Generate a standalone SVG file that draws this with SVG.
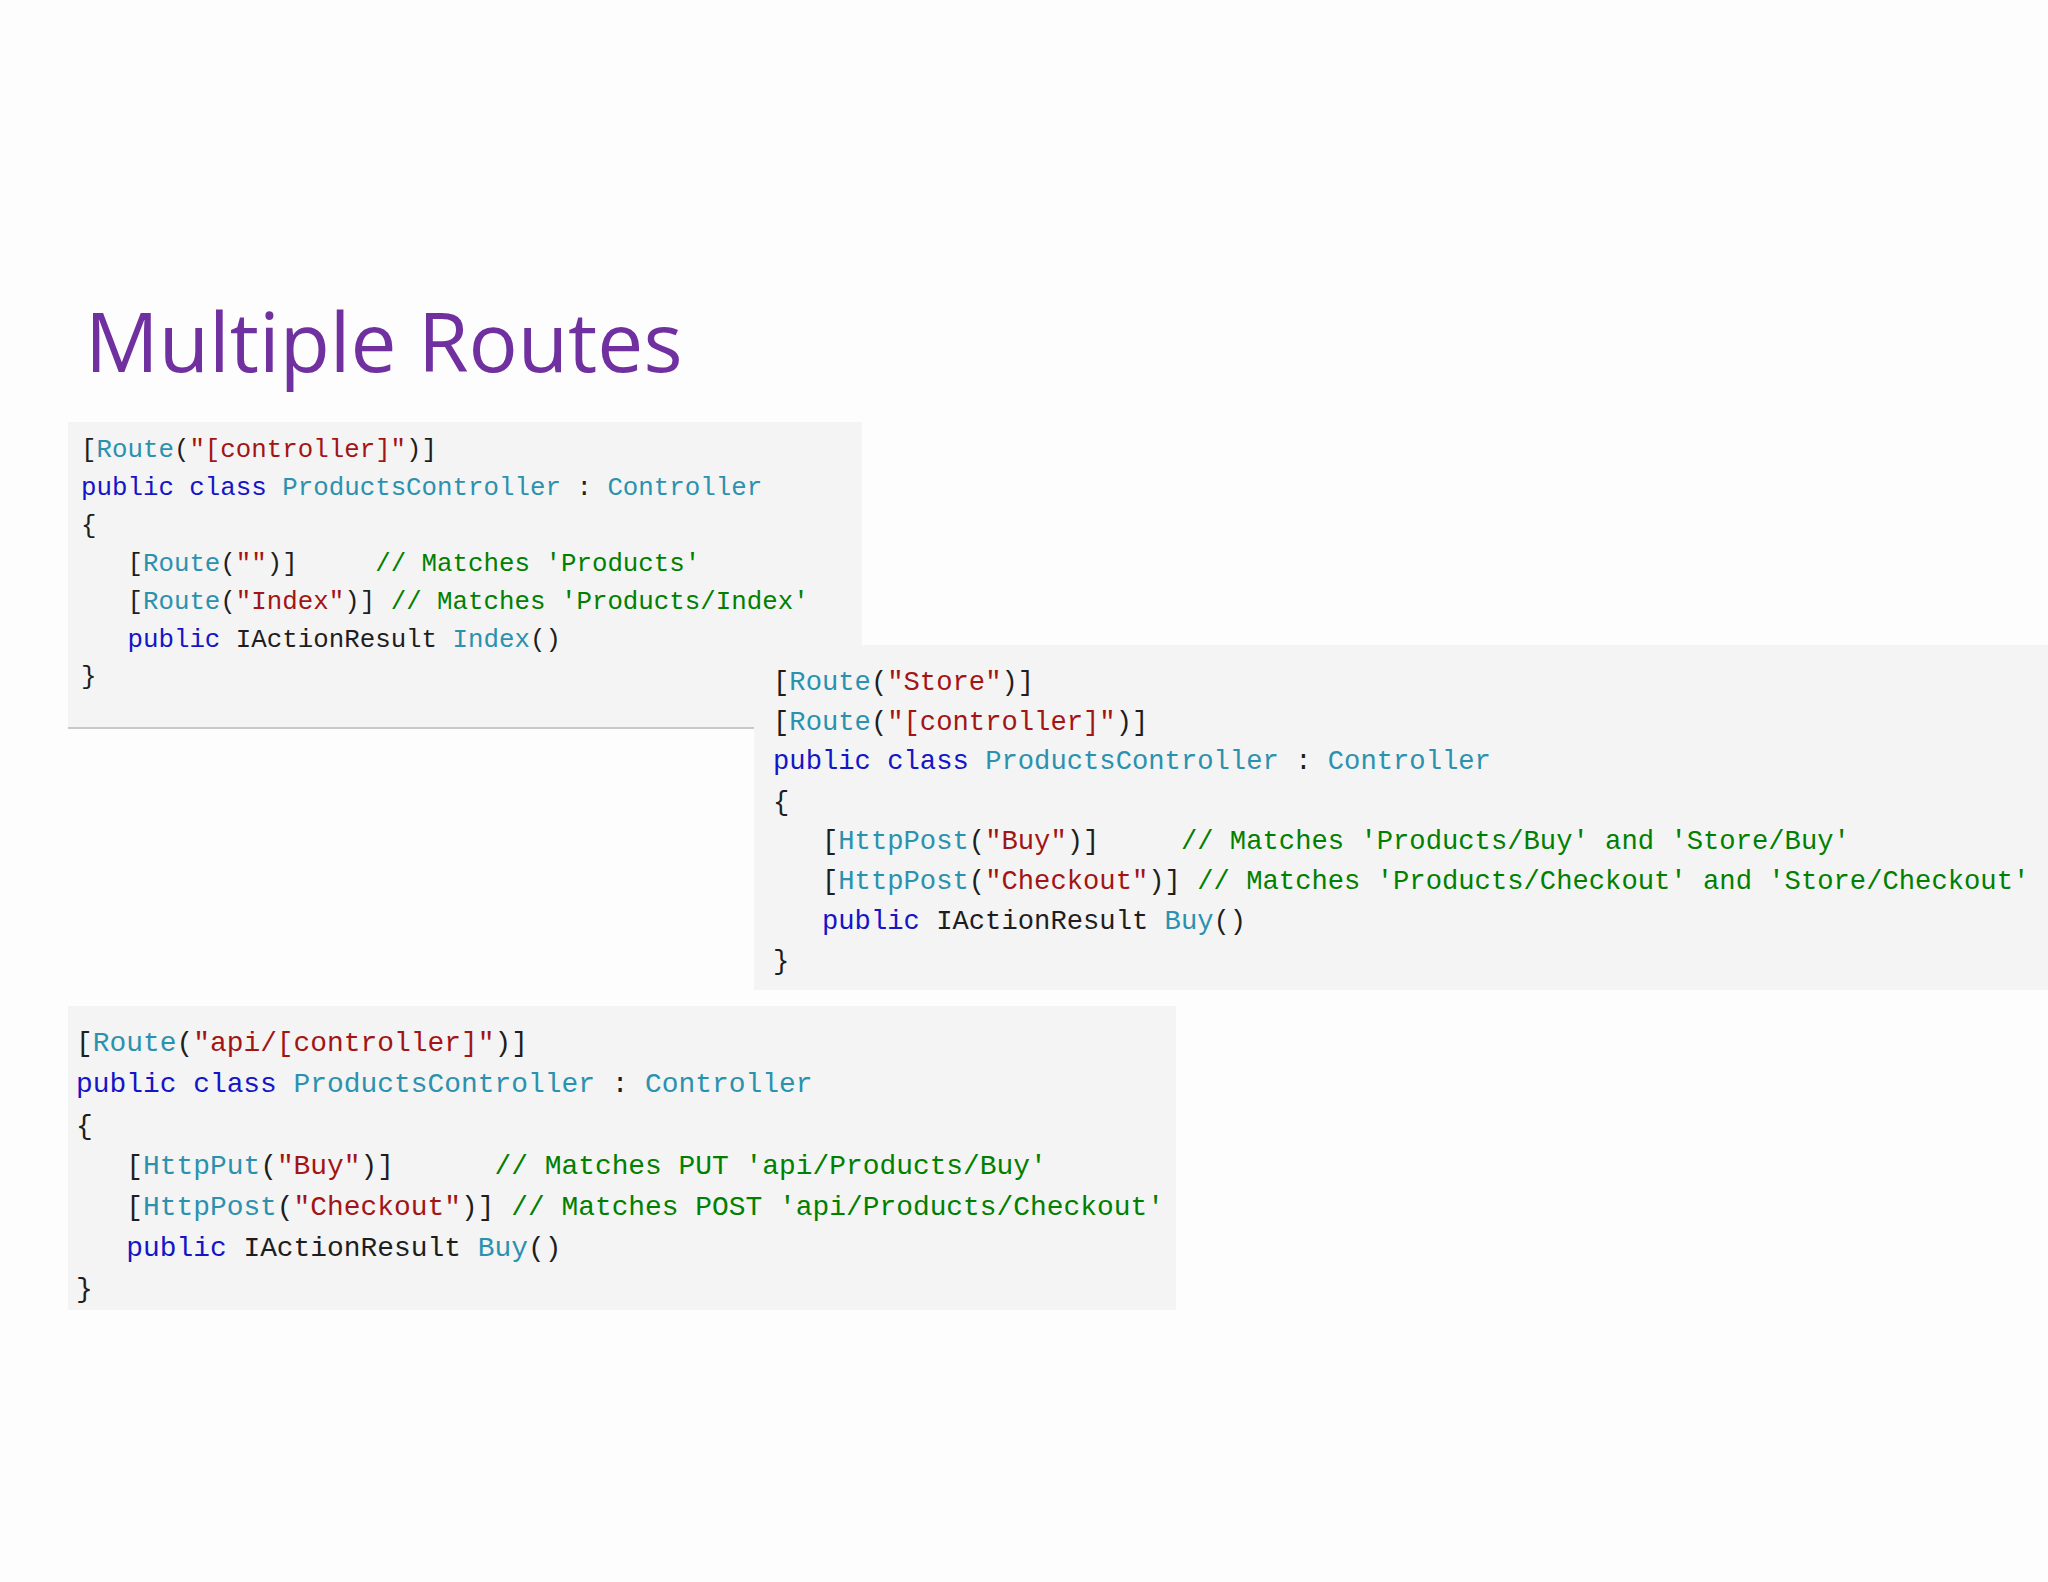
<svg xmlns="http://www.w3.org/2000/svg" width="2048" height="1582" viewBox="0 0 2048 1582">
<style>
.c{font-family:"Liberation Mono","DejaVu Sans Mono",monospace;fill:#1e1e1e;white-space:pre}
.k{fill:#1515c8}.t{fill:#2b91af}.s{fill:#a31515}.g{fill:#008000}
.bg{fill:#f4f4f4}
</style>
<rect width="2048" height="1582" fill="#fdfdfd"/>
<text x="85" y="372" font-family="Open Sans, Noto Sans, sans-serif" font-size="82" fill="#7030a0">Multiple Routes</text>
<g id="block1">
<rect class="bg" x="68" y="422" width="794" height="305"/>
<line x1="68" y1="728" x2="760" y2="728" stroke="#c8c8c8" stroke-width="2"/>
<text class="c" font-size="25.8" xml:space="preserve">
<tspan x="81" y="457">[<tspan class="t">Route</tspan>(<tspan class="s">"[controller]"</tspan>)]</tspan>
<tspan x="81" y="495"><tspan class="k">public class</tspan> <tspan class="t">ProductsController</tspan> : <tspan class="t">Controller</tspan></tspan>
<tspan x="81" y="533">{</tspan>
<tspan x="81" y="571">   [<tspan class="t">Route</tspan>(<tspan class="s">""</tspan>)]     <tspan class="g">// Matches 'Products'</tspan></tspan>
<tspan x="81" y="609">   [<tspan class="t">Route</tspan>(<tspan class="s">"Index"</tspan>)] <tspan class="g">// Matches 'Products/Index'</tspan></tspan>
<tspan x="81" y="647">   <tspan class="k">public</tspan> IActionResult <tspan class="t">Index</tspan>()</tspan>
<tspan x="81" y="684">}</tspan>
</text>
</g>
<g id="block2">
<rect class="bg" x="754" y="645" width="1294" height="345"/>
<text class="c" font-size="27.2" xml:space="preserve">
<tspan x="773" y="690">[<tspan class="t">Route</tspan>(<tspan class="s">"Store"</tspan>)]</tspan>
<tspan x="773" y="730">[<tspan class="t">Route</tspan>(<tspan class="s">"[controller]"</tspan>)]</tspan>
<tspan x="773" y="769"><tspan class="k">public class</tspan> <tspan class="t">ProductsController</tspan> : <tspan class="t">Controller</tspan></tspan>
<tspan x="773" y="810">{</tspan>
<tspan x="773" y="849">   [<tspan class="t">HttpPost</tspan>(<tspan class="s">"Buy"</tspan>)]     <tspan class="g">// Matches 'Products/Buy' and 'Store/Buy'</tspan></tspan>
<tspan x="773" y="889">   [<tspan class="t">HttpPost</tspan>(<tspan class="s">"Checkout"</tspan>)] <tspan class="g">// Matches 'Products/Checkout' and 'Store/Checkout'</tspan></tspan>
<tspan x="773" y="929">   <tspan class="k">public</tspan> IActionResult <tspan class="t">Buy</tspan>()</tspan>
<tspan x="773" y="969">}</tspan>
</text>
</g>
<g id="block3">
<rect class="bg" x="68" y="1006" width="1108" height="304"/>
<text class="c" font-size="27.9" xml:space="preserve">
<tspan x="76" y="1051">[<tspan class="t">Route</tspan>(<tspan class="s">"api/[controller]"</tspan>)]</tspan>
<tspan x="76" y="1092"><tspan class="k">public class</tspan> <tspan class="t">ProductsController</tspan> : <tspan class="t">Controller</tspan></tspan>
<tspan x="76" y="1134">{</tspan>
<tspan x="76" y="1174">   [<tspan class="t">HttpPut</tspan>(<tspan class="s">"Buy"</tspan>)]      <tspan class="g">// Matches PUT 'api/Products/Buy'</tspan></tspan>
<tspan x="76" y="1215">   [<tspan class="t">HttpPost</tspan>(<tspan class="s">"Checkout"</tspan>)] <tspan class="g">// Matches POST 'api/Products/Checkout'</tspan></tspan>
<tspan x="76" y="1256">   <tspan class="k">public</tspan> IActionResult <tspan class="t">Buy</tspan>()</tspan>
<tspan x="76" y="1297">}</tspan>
</text>
</g>
</svg>
